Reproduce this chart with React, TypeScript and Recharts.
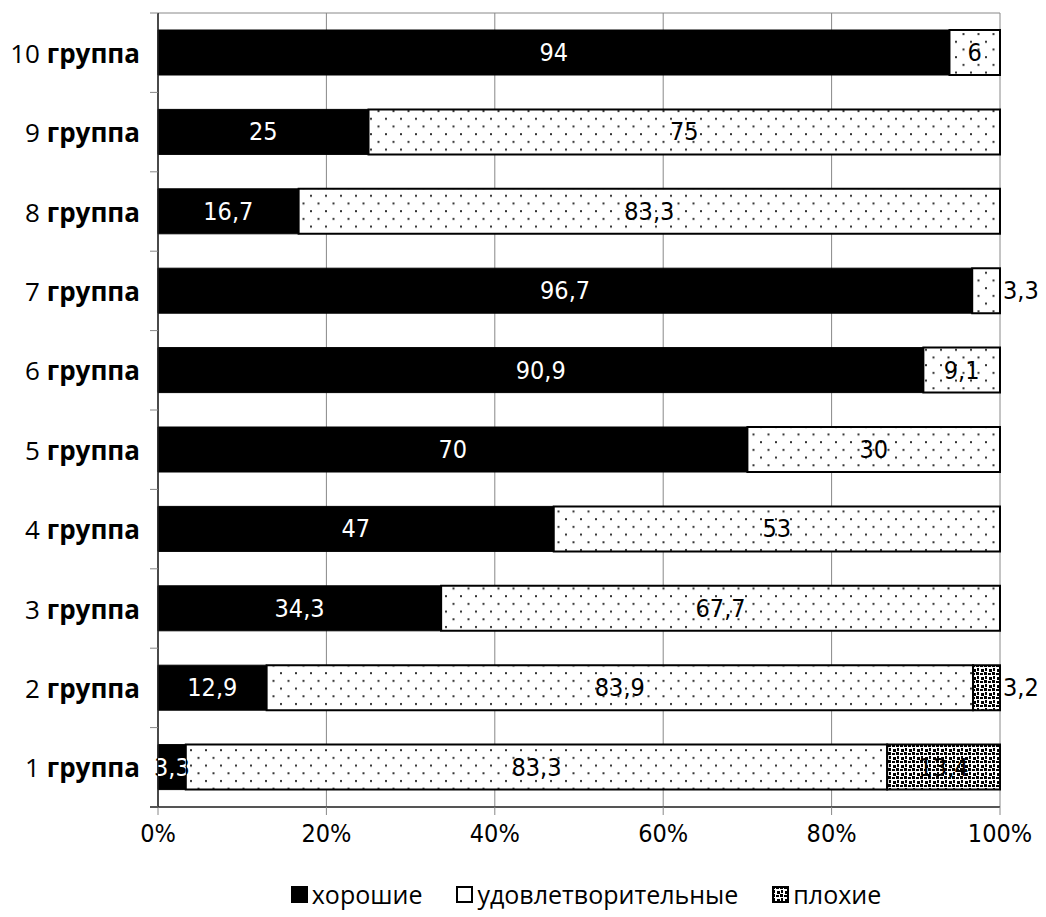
import { BarChart, Bar, XAxis, YAxis, CartesianGrid, LabelList, Legend } from 'recharts'

// top-to-bottom order, as in the picture
const groups = ['10', '9', '8', '7', '6', '5', '4', '3', '2', '1']
const good = [94, 25, 16.7, 96.7, 90.9, 70, 47, 34.3, 12.9, 3.3]
const fair = [6, 75, 83.3, 3.3, 9.1, 30, 53, 67.7, 83.9, 83.3]
const bad = [0, 0, 0, 0, 0, 0, 0, 0, 3.2, 13.4]
const xTicks = [0, 0.2, 0.4, 0.6, 0.8, 1]
const seriesNames = ['хорошие', 'удовлетворительные', 'плохие']

const data = groups.map((g, i) => ({
  name: g + ' группа',
  good: good[i],
  fair: fair[i],
  bad: bad[i]
}))

const W = 1030
const H = 905
const TOP = 5
const X_H = 52
const LEGEND_H = 54
const BAND = (H - TOP - X_H - LEGEND_H) / groups.length

const numFont = "'DejaVu Sans Condensed', 'DejaVu Sans', sans-serif"
const textFont = "'Open Sans', sans-serif"

const fmt = (v: number) => String(v).replace('.', ',')

function makeLabel(kind: 'good' | 'fair' | 'bad') {
  return (props: any) => {
    const { x, y, width, height, value, index } = props
    if (!value) return null
    const cy = y + height / 2
    const isLast = kind === 'bad' || (kind === 'fair' && bad[index] === 0)
    const common = {
      y: cy,
      dominantBaseline: 'central' as const,
      fontFamily: numFont,
      fontSize: 25
    }
    if (isLast && width < 35) {
      return (
        <text {...common} x={x + width + 3} textAnchor="start" fill="#000">
          {fmt(value)}
        </text>
      )
    }
    if (kind === 'good') {
      const id = 'clip-good-' + index
      return (
        <g>
          <clipPath id={id}>
            <rect x={x} y={y} width={width} height={height} />
          </clipPath>
          <text {...common} x={x + width / 2} textAnchor="middle" fill="#000">
            {fmt(value)}
          </text>
          <text {...common} x={x + width / 2} textAnchor="middle" fill="#fff" clipPath={`url(#${id})`}>
            {fmt(value)}
          </text>
        </g>
      )
    }
    return (
      <text {...common} x={x + width / 2} textAnchor="middle" fill="#000">
        {fmt(value)}
      </text>
    )
  }
}

const YTick = (props: any) => {
  const { x, y, payload, index } = props
  const [num, word] = String(payload.value).split(' ')
  return (
    <g>
      <line x1={x + 10} x2={x + 18} y1={y - BAND / 2} y2={y - BAND / 2} stroke="#888" />
      {index === groups.length - 1 && (
        <line x1={x + 10} x2={x + 18} y1={y + BAND / 2} y2={y + BAND / 2} stroke="#555" strokeWidth={2} />
      )}
      <text x={x} y={y} textAnchor="end" dominantBaseline="central" fontFamily={textFont} fontSize={26} fill="#000">
        <tspan>{num} </tspan>
        <tspan fontWeight="bold">{word}</tspan>
      </text>
    </g>
  )
}

const markerFills = ['#000', '#fff', 'url(#dense)']

const LegendContent = () => (
  <div
    style={{
      display: 'flex',
      justifyContent: 'center',
      alignItems: 'center',
      paddingLeft: 126,
      paddingTop: 18,
      fontFamily: textFont,
      fontSize: 25,
      color: '#000'
    }}
  >
    {seriesNames.map((n, i) => (
      <span
        key={n}
        style={{ display: 'flex', alignItems: 'center', marginLeft: i === 0 ? 0 : 34 }}
      >
        <svg width={17} height={17} style={{ marginRight: 4 }}>
          <rect x={1} y={1} width={15} height={15} fill={markerFills[i]} stroke="#000" strokeWidth={2} />
        </svg>
        {n}
      </span>
    ))}
  </div>
)

export default function App() {
  return (
    <div>
      <svg width={0} height={0} style={{ position: 'absolute' }}>
        <defs>
          <pattern id="dots" width={15} height={15.4} patternUnits="userSpaceOnUse">
            <rect width={15} height={15.4} fill="#fff" />
            <rect x={2} y={2} width={2} height={2} fill="#333" />
            <rect x={9.5} y={9.7} width={2} height={2} fill="#333" />
          </pattern>
          <pattern id="dense" width={8} height={8} patternUnits="userSpaceOnUse">
            <rect width={8} height={8} fill="#fff" />
            <rect x={0} y={0} width={3} height={3} fill="#000" />
            <rect x={4} y={1} width={3} height={2} fill="#000" />
            <rect x={1} y={4} width={2} height={3} fill="#000" />
            <rect x={5} y={5} width={3} height={3} fill="#000" />
          </pattern>
        </defs>
      </svg>
      <BarChart
        width={W}
        height={H}
        data={data}
        layout="vertical"
        stackOffset="expand"
        barSize={45}
        margin={{ top: TOP, right: 38, left: 0, bottom: 0 }}
      >
        <CartesianGrid
          stroke="#888"
          horizontalCoordinatesGenerator={({ offset }: any) => [offset.top]}
        />
        <XAxis
          type="number"
          domain={[0, 1]}
          ticks={xTicks}
          tickFormatter={(v: number) => Math.round(v * 100) + '%'}
          height={X_H}
          axisLine={{ stroke: '#555', strokeWidth: 2 }}
          tickLine={{ stroke: '#888' }}
          tickSize={8}
          tickMargin={9}
          tick={{ fill: '#000', fontSize: 25, fontFamily: numFont }}
          interval={0}
        />
        <YAxis
          type="category"
          dataKey="name"
          width={150}
          axisLine={{ stroke: '#222', strokeWidth: 1.5 }}
          tickLine={false}
          tickSize={8}
          tickMargin={10}
          tick={<YTick />}
          interval={0}
        />
        <Legend
          verticalAlign="bottom"
          content={<LegendContent />}
          wrapperStyle={{ left: 0, width: W, height: LEGEND_H }}
        />
        <Bar dataKey="good" name={seriesNames[0]} stackId="a" fill="#000" stroke="#000" strokeWidth={1} isAnimationActive={false}>
          <LabelList dataKey="good" content={makeLabel('good')} />
        </Bar>
        <Bar dataKey="fair" name={seriesNames[1]} stackId="a" fill="url(#dots)" stroke="#000" strokeWidth={2} isAnimationActive={false}>
          <LabelList dataKey="fair" content={makeLabel('fair')} />
        </Bar>
        <Bar dataKey="bad" name={seriesNames[2]} stackId="a" fill="url(#dense)" stroke="#000" strokeWidth={2} isAnimationActive={false}>
          <LabelList dataKey="bad" content={makeLabel('bad')} />
        </Bar>
      </BarChart>
    </div>
  )
}
